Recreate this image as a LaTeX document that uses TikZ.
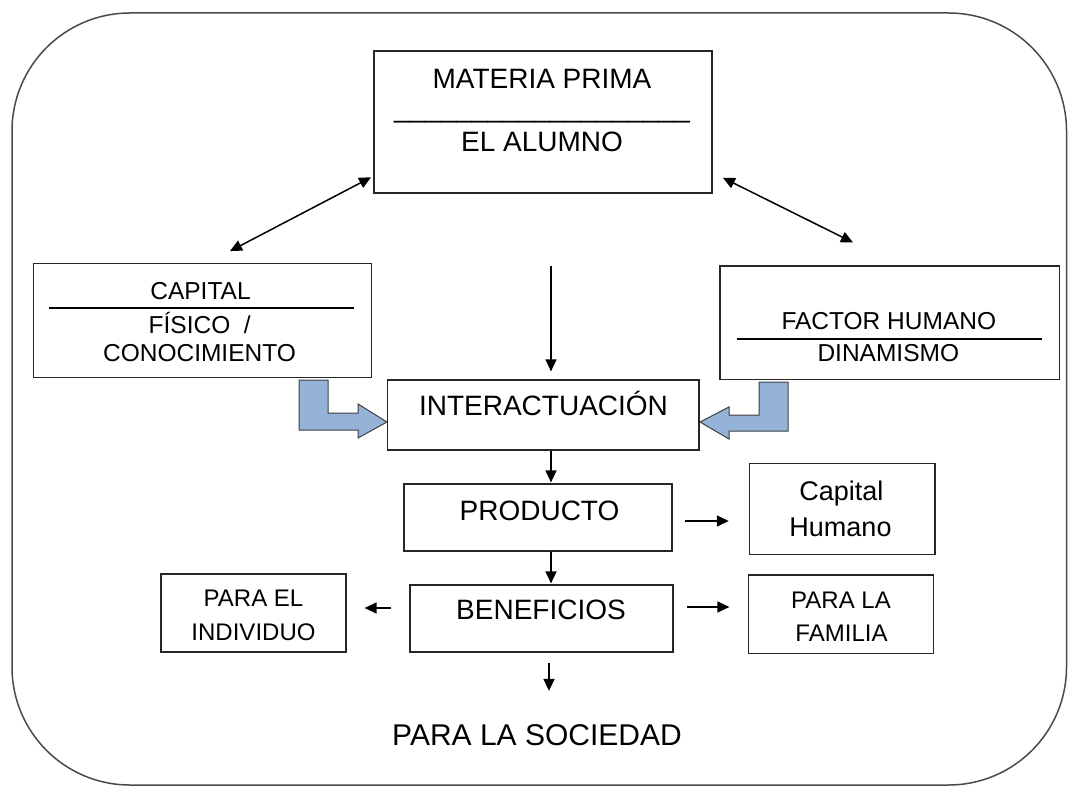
\documentclass[tikz,border=0pt]{standalone}
\usepackage{fontspec}
\setmainfont{Liberation Sans}
\usetikzlibrary{arrows.meta}
\definecolor{blockfill}{HTML}{95B3D7}
\definecolor{blockline}{HTML}{3F3F3F}
\definecolor{framecol}{HTML}{4A4A4A}
\begin{document}
\begin{tikzpicture}[x=1pt,y=-1pt,
  box/.style={draw=black!85, line width=1.2pt, inner sep=0pt, fill=white},
  txt/.style={inner sep=0pt, anchor=base, font=\fontsize{28}{32}\selectfont},
  txs/.style={inner sep=0pt, anchor=base, font=\fontsize{24.5}{28}\selectfont},
  txb/.style={inner sep=0pt, anchor=base, font=\fontsize{24}{28}\selectfont},
  rulel/.style={line width=2pt, black},
  arr/.style={line width=1.5pt, -{Triangle[length=12pt,width=11pt]}},
  darr/.style={line width=1.5pt, {Triangle[length=12pt,width=11pt]}-{Triangle[length=12pt,width=11pt]}},
  blockarrow/.style={fill=blockfill, draw=blockline, line width=1pt, line join=miter}
]
\useasboundingbox (0,0) rectangle (1068,786);
% outer frame
\draw[framecol, line width=1.5pt, rounded corners=118pt] (12,13) rectangle (1066.5,785);

% block arrows
\filldraw[blockarrow] (299,380) -- (328,380) -- (328,413) -- (358,413) -- (358,404) -- (387,422) -- (358,438) -- (358,430) -- (299,430) -- cycle;
\filldraw[blockarrow] (788,382) -- (759,382) -- (759,415) -- (729,415) -- (729,407) -- (700,422) -- (729,439) -- (729,431) -- (788,431) -- cycle;

% top box
\node[box, minimum width=338pt, minimum height=142pt] (mp) at (543,122) {};
\node[txt] (mp1) at (542,89) {MATERIA PRIMA};
\node[txt] (mp2) at (542,118) {\_\_\_\_\_\_\_\_\_\_\_\_\_\_\_\_\_\_\_};
\node[txt] (mp3) at (542,152) {EL ALUMNO};

% left box
\node[box, minimum width=338.4pt, minimum height=114.4pt] (cap) at (202.5,320.5) {};
\node[txs] (cap1) at (200.5,300) {CAPITAL};
\draw[rulel] (49.3,308.3) -- (354.3,308.3);
\node[txs] (cap2) at (199.7,333.3) {FÍSICO\ \ /};
\node[txs] (cap3) at (199.5,361) {CONOCIMIENTO};

% right box
\node[box, minimum width=339.3pt, minimum height=113.3pt] (fh) at (889.7,322.7) {};
\node[txs] (fh1) at (888.8,330) {FACTOR HUMANO};
\draw[rulel] (737.3,339) -- (1042.3,339);
\node[txs] (fh2) at (888.3,361) {DINAMISMO};

% interactuacion
\node[box, minimum width=311.7pt, minimum height=70pt] (int) at (543.2,415) {};
\node[txt] (int1) at (543.5,415.7) {INTERACTUACIÓN};

% producto
\node[box, minimum width=268pt, minimum height=67pt] (prod) at (538,517.5) {};
\node[txt] (prod1) at (539.5,520) {PRODUCTO};

% capital humano
\node[box, minimum width=185.7pt, minimum height=91pt] (ch) at (842.2,508.8) {};
\node[inner sep=0pt, anchor=base, font=\fontsize{27}{31}\selectfont] (ch1) at (841.3,500.7) {Capital};
\node[inner sep=0pt, anchor=base, font=\fontsize{27}{31}\selectfont] (ch2) at (840.5,536.7) {Humano};

% beneficios
\node[box, minimum width=263pt, minimum height=67pt] (ben) at (541.5,618.5) {};
\node[txt] (ben1) at (541,619.5) {BENEFICIOS};

% para el individuo
\node[box, minimum width=185pt, minimum height=78pt] (ind) at (253.5,613) {};
\node[txb] (ind1) at (253.5,606) {PARA EL};
\node[txb] (ind2) at (253.5,640) {INDIVIDUO};

% para la familia
\node[box, minimum width=185pt, minimum height=78.3pt] (fam) at (840.8,614.2) {};
\node[txb] (fam1) at (841,608.3) {PARA LA};
\node[txb] (fam2) at (841.5,641.7) {FAMILIA};

% para la sociedad
\node[inner sep=0pt, anchor=base, font=\fontsize{30}{34}\selectfont] (soc) at (537,745) {PARA LA SOCIEDAD};

% connectors
\draw[darr] ([shift={(-2.3pt,16.3pt)}]mp.south west) -- ([shift={(27.5pt,11.6pt)}]cap.north);
\draw[darr] ([shift={(10.3pt,15.8pt)}]mp.south east) -- ([shift={(-36.7pt,23pt)}]fh.north);
\draw[arr, shorten <=72pt, shorten >=8pt] ([xshift=8pt]mp.south) -- ([xshift=7.8pt]int.north);
\draw[arr, shorten >=1pt] ([xshift=7.8pt]int.south) -- ([xshift=13pt]prod.north);
\draw[arr, shorten >=1pt] ([xshift=13pt]prod.south) -- ([xshift=9.5pt]ben.north);
\draw[arr, shorten <=10pt, shorten >=33pt] ([xshift=7.5pt]ben.south) -- ([xshift=12pt]soc.north);
\draw[arr, shorten <=12pt, shorten >=20pt] ([yshift=-3.5pt]prod.east) -- ([yshift=-12.2pt]ch.west);
\draw[arr, shorten <=13pt, shorten >=18.3pt] ([yshift=11.5pt]ben.east) -- ([yshift=7.2pt]fam.west);
\draw[arr, shorten <=18pt, shorten >=18pt] ([yshift=10.5pt]ben.west) -- ([yshift=5pt]ind.east);
\end{tikzpicture}
\end{document}
